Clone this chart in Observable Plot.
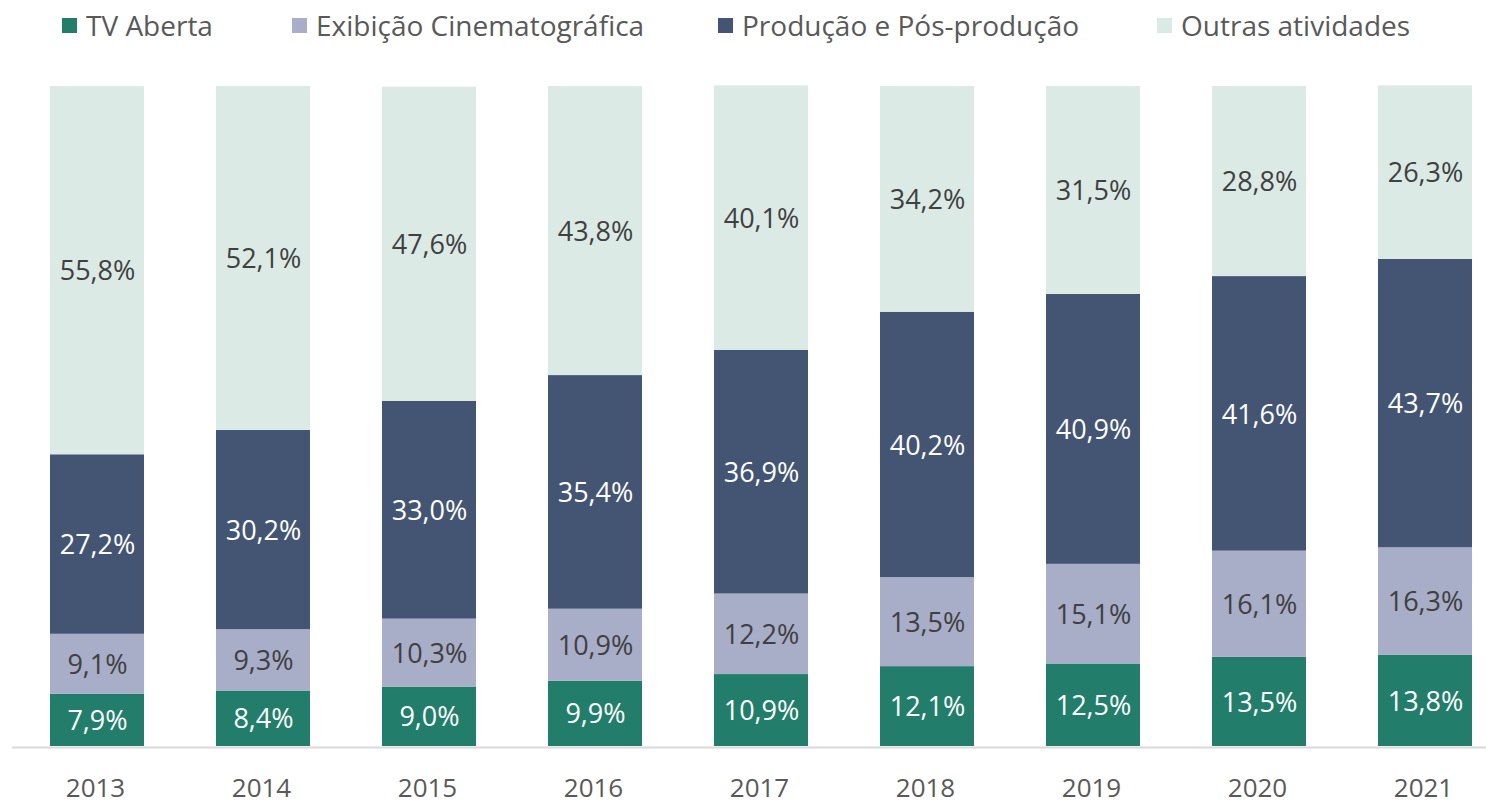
<!DOCTYPE html>
<html>
<head>
<meta charset="utf-8">
<script src="https://cdn.jsdelivr.net/npm/d3@7"></script>
<script src="https://cdn.jsdelivr.net/npm/@observablehq/plot@0.6"></script>
<style>
  html, body { margin: 0; padding: 0; background: #fff; }
  #wrap { position: relative; width: 1486px; height: 804px; font-family: "Open Sans", "Noto Sans", sans-serif; }
  #legend { position: relative; height: 56px; }
  .item { position: absolute; top: 0; height: 50px; display: flex; align-items: center; font-size: 28px; color: #595959; white-space: nowrap; }
  .sw { width: 15px; height: 15px; margin-right: 9px; }
</style>
</head>
<body>
<div id="wrap">
  <div id="legend"></div>
  <div id="chart"></div>
</div>
<script>
const years = ["2013","2014","2015","2016","2017","2018","2019","2020","2021"];
const seriesNames = ["TV Aberta","Exibição Cinematográfica","Produção e Pós-produção","Outras atividades"];
const seriesColors = ["#227e6a","#a8adc8","#445573","#dceae6"];
const labelColors = ["#ffffff","#404040","#ffffff","#404040"];
const tvAberta = [7.9, 8.4, 9.0, 9.9, 10.9, 12.1, 12.5, 13.5, 13.8];
const exibicao = [9.1, 9.3, 10.3, 10.9, 12.2, 13.5, 15.1, 16.1, 16.3];
const producao = [27.2, 30.2, 33.0, 35.4, 36.9, 40.2, 40.9, 41.6, 43.7];
const outras = [55.8, 52.1, 47.6, 43.8, 40.1, 34.2, 31.5, 28.8, 26.3];

const seriesValues = [tvAberta, exibicao, producao, outras];
const data = [];
seriesNames.forEach((s, i) => {
  years.forEach((y, j) => data.push({year: y, series: s, value: seriesValues[i][j], label: labelColors[i]}));
});
const fmt = v => v.toFixed(1).replace(".", ",") + "%";

// legend
const legendLeft = [62, 292, 718, 1157];
const legend = document.getElementById("legend");
seriesNames.forEach((s, i) => {
  const it = document.createElement("div");
  it.className = "item";
  it.style.left = legendLeft[i] + "px";
  it.innerHTML = `<span class="sw" style="background:${seriesColors[i]}"></span><span>${s}</span>`;
  legend.appendChild(it);
});

const stackOpts = (light) => Plot.stackY({
  x: "year", y: "value", z: "series", order: seriesNames,
  text: d => ((d.label === "#ffffff") !== light) ? fmt(d.value) : null,
  fill: light ? "#404040" : "#ffffff",
  fontSize: 27,
  dy: 1
});

const chart = Plot.plot({
  width: 1486,
  height: 748,
  marginLeft: 12,
  marginRight: 0,
  marginTop: 30,
  marginBottom: 58,
  style: {fontFamily: "'Open Sans', 'Noto Sans', sans-serif", fontSize: "26px", background: "#fff"},
  x: {domain: years, paddingInner: 0.435, paddingOuter: 0.15, align: 0.72, label: null},
  y: {domain: [0, 100], axis: null},
  color: {domain: seriesNames, range: seriesColors},
  marks: [
    Plot.barY(data, Plot.stackY({x: "year", y: "value", z: "series", fill: "series", order: seriesNames})),
    Plot.ruleY([0], {stroke: "#d9d9d9", strokeWidth: 2, dy: 1}),
    Plot.text(data, stackOpts(false)),
    Plot.text(data, stackOpts(true)),
    Plot.axisX({tickSize: 0, tickPadding: 32, fontSize: 26, color: "#595959", label: null, dx: -2})
  ]
});
document.getElementById("chart").appendChild(chart);
</script>
</body>
</html>
